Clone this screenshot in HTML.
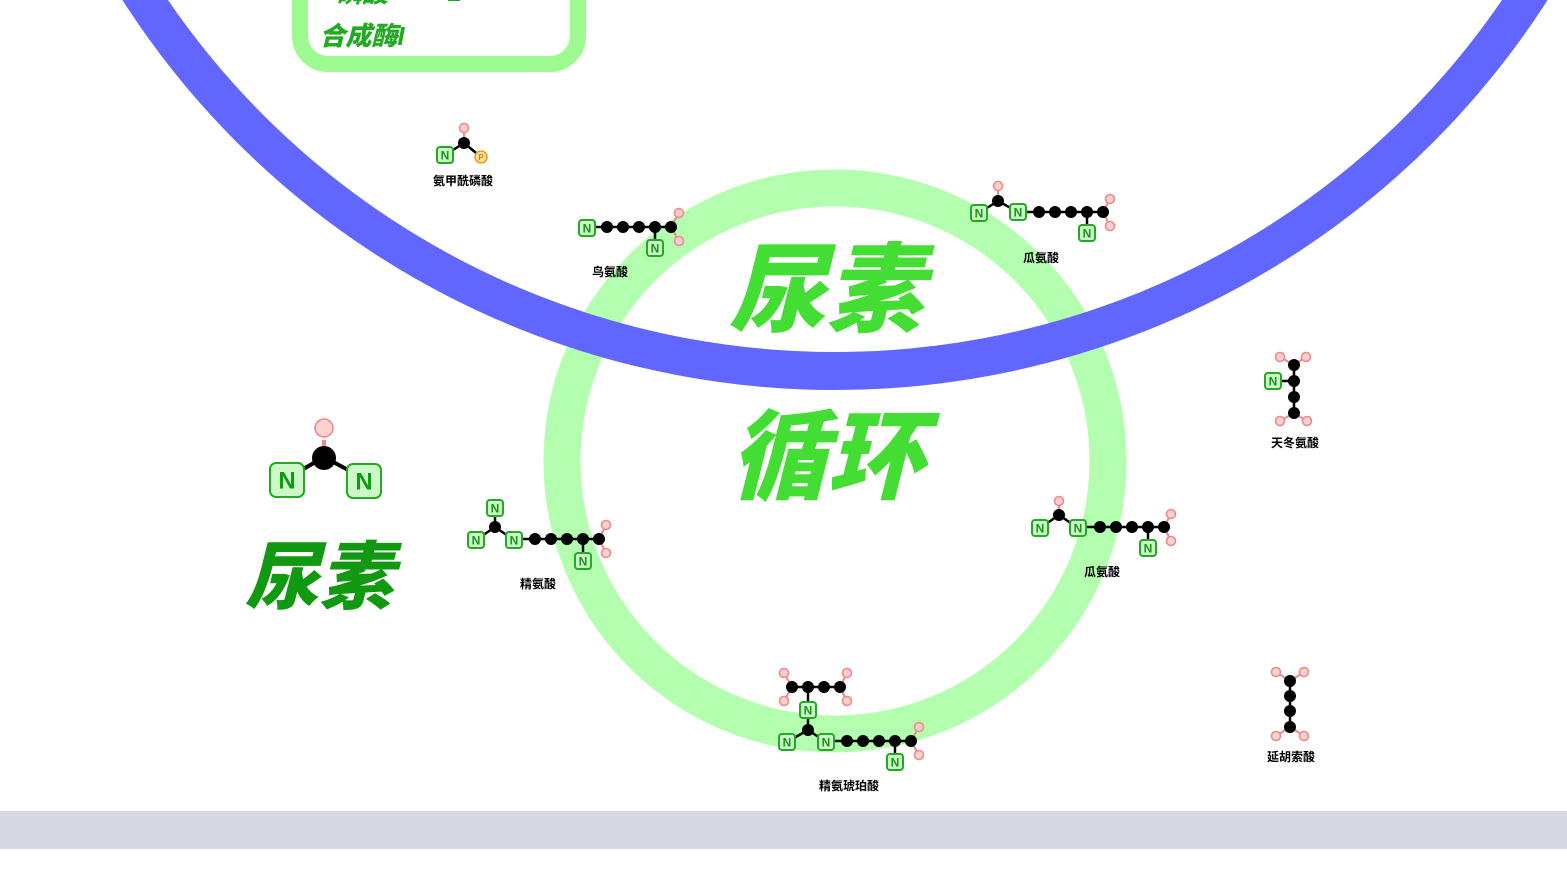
<!DOCTYPE html>
<html><head><meta charset="utf-8"><style>
html,body{margin:0;padding:0;background:#fff;width:1567px;height:881px;overflow:hidden}
svg{display:block}
.n rect{fill:#ccf7c8;stroke:#22aa22;stroke-width:2}
.nt{font:bold 12px "Liberation Sans",sans-serif;fill:#119911;text-anchor:middle;dominant-baseline:central}
.o{fill:#ffd0d0;stroke:#ee8a8a;stroke-width:1.6}
.c{fill:#000}
.b{stroke:#000;stroke-width:2.5}
.ob{stroke:#ee8a8a;stroke-width:2}
.lab{font:bold 12px "Liberation Sans","Noto Sans CJK SC",sans-serif;fill:#000;text-anchor:middle}
.big{font-family:"Liberation Sans","Noto Sans CJK SC",sans-serif;font-weight:900;font-style:italic;text-anchor:middle}
</style></head><body>
<svg width="1567" height="881" viewBox="0 0 1567 881" xmlns="http://www.w3.org/2000/svg">
<defs>
<g id="N" class="n"><rect x="-8" y="-8" width="16" height="16" rx="3"/><text class="nt" x="0" y="0.5">N</text></g>
</defs>
<circle cx="835" cy="461" r="273" fill="none" stroke="#b3ffaf" stroke-width="37"/>
<circle cx="835" cy="-456" r="827" fill="none" stroke="#6066ff" stroke-width="38"/>
<rect x="300" y="-60" width="278" height="124" rx="28" fill="#fff" stroke="#9dfa90" stroke-width="16"/>
<text class="big" x="362" y="2" font-size="26" fill="#22aa22">磷酸</text>
<rect x="448" y="-2" width="12" height="3" fill="#22aa22"/>
<text class="big" x="362" y="45" font-size="26" fill="#22aa22">合成酶I</text>

<text class="big" x="826" y="324" font-size="97" fill="#44dd33">尿素</text>
<text class="big" x="827" y="491" font-size="97" fill="#44dd33">循环</text>
<text class="big" x="319" y="603" font-size="74" fill="#119911">尿素</text>
<rect x="0" y="811" width="1567" height="38" fill="#d8d8e5"/>

<line x1="324" y1="440" x2="324" y2="457" stroke="#ee8a8a" stroke-width="4"/>
<line x1="324" y1="457" x2="300" y2="471" stroke="#000" stroke-width="4"/>
<line x1="324" y1="457" x2="350" y2="471" stroke="#000" stroke-width="4"/>
<circle cx="324" cy="428" r="9" class="o" stroke-width="3"/>
<circle cx="324" cy="458" r="12" class="c"/>
<g class="n"><rect x="270" y="463" width="34" height="34" rx="6" stroke-width="3"/><text x="287" y="481" style="font:bold 24px 'Liberation Sans',sans-serif;fill:#119911;text-anchor:middle;dominant-baseline:central">N</text></g>
<g class="n"><rect x="347" y="464" width="34" height="34" rx="6" stroke-width="3"/><text x="364" y="482" style="font:bold 24px 'Liberation Sans',sans-serif;fill:#119911;text-anchor:middle;dominant-baseline:central">N</text></g>

<line class="ob" x1="464" y1="128" x2="464" y2="143"/>
<line class="b" x1="464" y1="143" x2="445" y2="155"/><line class="b" x1="464" y1="143" x2="481" y2="157"/>
<circle class="o" cx="464" cy="128" r="4.5"/><circle class="c" cx="464" cy="143" r="6"/>
<use href="#N" x="445" y="155"/>
<circle cx="481" cy="157" r="6" fill="#ffe0a0" stroke="#e6a020" stroke-width="1.6"/><text x="481" y="157.5" style="font:bold 8px 'Liberation Sans',sans-serif;fill:#d08000;text-anchor:middle;dominant-baseline:central">P</text>
<text class="lab" x="463" y="185">氨甲酰磷酸</text>

<line class="b" x1="595" y1="227" x2="671" y2="227"/><line class="b" x1="655" y1="227" x2="655" y2="240"/>
<line class="ob" x1="671" y1="227" x2="679" y2="213"/><line class="ob" x1="671" y1="227" x2="679" y2="241"/>
<circle class="c" cx="607" cy="227" r="6"/><circle class="c" cx="623" cy="227" r="6"/><circle class="c" cx="639" cy="227" r="6"/><circle class="c" cx="655" cy="227" r="6"/><circle class="c" cx="671" cy="227" r="6"/>
<circle class="o" cx="679" cy="213" r="4.5"/><circle class="o" cx="679" cy="241" r="4.5"/>
<use href="#N" x="587" y="228"/><use href="#N" x="655" y="248"/>
<text class="lab" x="610" y="276">鸟氨酸</text>

<line class="ob" x1="998" y1="186" x2="998" y2="201"/>
<line class="b" x1="979" y1="213" x2="998" y2="201"/><line class="b" x1="998" y1="201" x2="1018" y2="212"/>
<line class="b" x1="1018" y1="212" x2="1103" y2="212"/><line class="b" x1="1087" y1="212" x2="1087" y2="225"/>
<line class="ob" x1="1103" y1="212" x2="1110" y2="199"/><line class="ob" x1="1103" y1="212" x2="1110" y2="226"/>
<circle class="o" cx="998" cy="186" r="4.5"/><circle class="c" cx="998" cy="201" r="6"/>
<circle class="c" cx="1039" cy="212" r="6"/><circle class="c" cx="1055" cy="212" r="6"/><circle class="c" cx="1071" cy="212" r="6"/><circle class="c" cx="1087" cy="212" r="6"/><circle class="c" cx="1103" cy="212" r="6"/>
<circle class="o" cx="1110" cy="199" r="4.5"/><circle class="o" cx="1110" cy="226" r="4.5"/>
<use href="#N" x="979" y="213"/><use href="#N" x="1018" y="212"/><use href="#N" x="1087" y="233"/>
<text class="lab" x="1041" y="262">瓜氨酸</text>

<line class="b" x1="1294" y1="365" x2="1294" y2="413"/><line class="b" x1="1273" y1="381" x2="1294" y2="381"/>
<line class="ob" x1="1294" y1="365" x2="1280" y2="357"/><line class="ob" x1="1294" y1="365" x2="1306" y2="357"/>
<line class="ob" x1="1294" y1="413" x2="1280" y2="421"/><line class="ob" x1="1294" y1="413" x2="1307" y2="421"/>
<circle class="c" cx="1294" cy="365" r="6"/><circle class="c" cx="1294" cy="381" r="6"/><circle class="c" cx="1294" cy="397" r="6"/><circle class="c" cx="1294" cy="413" r="6"/>
<circle class="o" cx="1280" cy="357" r="4.5"/><circle class="o" cx="1306" cy="357" r="4.5"/><circle class="o" cx="1280" cy="421" r="4.5"/><circle class="o" cx="1307" cy="421" r="4.5"/>
<use href="#N" x="1273" y="381"/>
<text class="lab" x="1295" y="447">天冬氨酸</text>

<line class="b" x1="495" y1="508" x2="495" y2="527"/><line class="b" x1="495" y1="527" x2="476" y2="540"/><line class="b" x1="495" y1="527" x2="514" y2="540"/>
<line class="b" x1="514" y1="539" x2="599" y2="539"/><line class="b" x1="583" y1="539" x2="583" y2="553"/>
<line class="ob" x1="599" y1="539" x2="606" y2="525"/><line class="ob" x1="599" y1="539" x2="606" y2="553"/>
<circle class="c" cx="495" cy="527" r="6"/>
<circle class="c" cx="535" cy="539" r="6"/><circle class="c" cx="551" cy="539" r="6"/><circle class="c" cx="567" cy="539" r="6"/><circle class="c" cx="583" cy="539" r="6"/><circle class="c" cx="599" cy="539" r="6"/>
<circle class="o" cx="606" cy="525" r="4.5"/><circle class="o" cx="606" cy="553" r="4.5"/>
<use href="#N" x="495" y="508"/><use href="#N" x="476" y="540"/><use href="#N" x="514" y="540"/><use href="#N" x="583" y="561"/>
<text class="lab" x="538" y="588">精氨酸</text>

<line class="ob" x1="1059" y1="501" x2="1059" y2="515"/>
<line class="b" x1="1040" y1="528" x2="1059" y2="515"/><line class="b" x1="1059" y1="515" x2="1078" y2="528"/>
<line class="b" x1="1078" y1="527" x2="1164" y2="527"/><line class="b" x1="1148" y1="527" x2="1148" y2="540"/>
<line class="ob" x1="1164" y1="527" x2="1171" y2="514"/><line class="ob" x1="1164" y1="527" x2="1171" y2="541"/>
<circle class="o" cx="1059" cy="501" r="4.5"/><circle class="c" cx="1059" cy="515" r="6"/>
<circle class="c" cx="1100" cy="527" r="6"/><circle class="c" cx="1116" cy="527" r="6"/><circle class="c" cx="1132" cy="527" r="6"/><circle class="c" cx="1148" cy="527" r="6"/><circle class="c" cx="1164" cy="527" r="6"/>
<circle class="o" cx="1171" cy="514" r="4.5"/><circle class="o" cx="1171" cy="541" r="4.5"/>
<use href="#N" x="1040" y="528"/><use href="#N" x="1078" y="528"/><use href="#N" x="1148" y="548"/>
<text class="lab" x="1102" y="576">瓜氨酸</text>

<line class="b" x1="792" y1="687" x2="840" y2="687"/><line class="b" x1="808" y1="687" x2="808" y2="730"/>
<line class="ob" x1="792" y1="687" x2="784" y2="673"/><line class="ob" x1="792" y1="687" x2="784" y2="701"/>
<line class="ob" x1="840" y1="687" x2="847" y2="673"/><line class="ob" x1="840" y1="687" x2="847" y2="701"/>
<line class="b" x1="808" y1="730" x2="787" y2="742"/><line class="b" x1="808" y1="730" x2="826" y2="742"/>
<line class="b" x1="826" y1="741" x2="911" y2="741"/><line class="b" x1="895" y1="741" x2="895" y2="754"/>
<line class="ob" x1="911" y1="741" x2="919" y2="727"/><line class="ob" x1="911" y1="741" x2="919" y2="755"/>
<circle class="c" cx="792" cy="687" r="6"/><circle class="c" cx="808" cy="687" r="6"/><circle class="c" cx="824" cy="687" r="6"/><circle class="c" cx="840" cy="687" r="6"/>
<circle class="o" cx="784" cy="673" r="4.5"/><circle class="o" cx="784" cy="701" r="4.5"/><circle class="o" cx="847" cy="673" r="4.5"/><circle class="o" cx="847" cy="701" r="4.5"/>
<circle class="c" cx="808" cy="730" r="6"/>
<circle class="c" cx="847" cy="741" r="6"/><circle class="c" cx="863" cy="741" r="6"/><circle class="c" cx="879" cy="741" r="6"/><circle class="c" cx="895" cy="741" r="6"/><circle class="c" cx="911" cy="741" r="6"/>
<circle class="o" cx="919" cy="727" r="4.5"/><circle class="o" cx="919" cy="755" r="4.5"/>
<use href="#N" x="808" y="710"/><use href="#N" x="787" y="742"/><use href="#N" x="826" y="742"/><use href="#N" x="895" y="762"/>
<text class="lab" x="849" y="790">精氨琥珀酸</text>

<line class="b" x1="1290" y1="681" x2="1290" y2="727"/>
<line class="ob" x1="1290" y1="681" x2="1276" y2="672"/><line class="ob" x1="1290" y1="681" x2="1304" y2="672"/>
<line class="ob" x1="1290" y1="727" x2="1276" y2="736"/><line class="ob" x1="1290" y1="727" x2="1304" y2="736"/>
<circle class="c" cx="1290" cy="681" r="6"/><circle class="c" cx="1290" cy="696" r="6"/><circle class="c" cx="1290" cy="711" r="6"/><circle class="c" cx="1290" cy="727" r="6"/>
<circle class="o" cx="1276" cy="672" r="4.5"/><circle class="o" cx="1304" cy="672" r="4.5"/><circle class="o" cx="1276" cy="736" r="4.5"/><circle class="o" cx="1304" cy="736" r="4.5"/>
<text class="lab" x="1291" y="761">延胡索酸</text>
</svg>
</body></html>
